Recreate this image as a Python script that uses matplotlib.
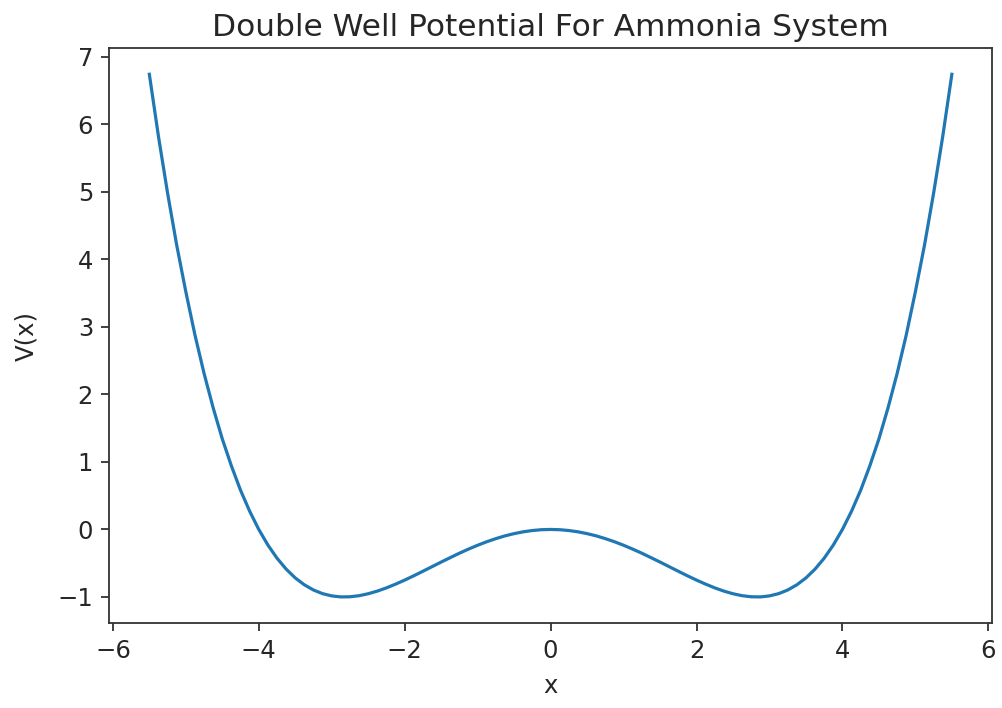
import matplotlib.pyplot as plt

# Values (right half; the curve is mirror-symmetric)
x_right = [0.0, 0.125, 0.25, 0.375, 0.5, 0.625, 0.75, 0.875, 1.0, 1.125, 1.25,
           1.375, 1.5, 1.625, 1.75, 1.875, 2.0, 2.125, 2.25, 2.375, 2.5, 2.625,
           2.75, 2.875, 3.0, 3.125, 3.25, 3.375, 3.5, 3.625, 3.75, 3.875, 4.0,
           4.125, 4.25, 4.375, 4.5, 4.625, 4.75, 4.875, 5.0, 5.125, 5.25, 5.375, 5.5]
v_right = [0.000, -0.004, -0.016, -0.035, -0.062, -0.095, -0.136, -0.182, -0.234,
           -0.291, -0.352, -0.417, -0.483, -0.551, -0.619, -0.686, -0.750, -0.810,
           -0.865, -0.913, -0.952, -0.981, -0.997, -0.999, -0.984, -0.951, -0.897,
           -0.820, -0.718, -0.587, -0.426, -0.231, 0.000, 0.27, 0.58, 0.94, 1.34,
           1.80, 2.31, 2.88, 3.52, 4.21, 4.98, 5.82, 6.74]

x = [-p for p in x_right[:0:-1]] + x_right
v = v_right[:0:-1] + v_right

text_col = '#262626'
edge_col = '#333333'

fig = plt.figure(figsize=(10.02, 7.08), dpi=100)
ax = fig.add_axes([0.109, 0.120, 0.881, 0.812])

ax.plot(x, v, color='#1f77b4', linewidth=2.3)

ax.set_title('Double Well Potential For Ammonia System', fontsize=22.5, color=text_col, pad=9)
ax.set_xlabel('x', fontsize=17.5, color=text_col, labelpad=8)
ax.set_ylabel('V(x)', fontsize=17.5, color=text_col, labelpad=14)
ax.set_xticks([-6, -4, -2, 0, 2, 4, 6])
ax.set_yticks([-1, 0, 1, 2, 3, 4, 5, 6, 7])
ax.tick_params(labelsize=17.5, length=5.8, width=1.3, colors=edge_col, labelcolor=text_col, pad=5.8)
for s in ax.spines.values():
    s.set_linewidth(1.3)
    s.set_color(edge_col)

fig.savefig('out.png', dpi=100)
